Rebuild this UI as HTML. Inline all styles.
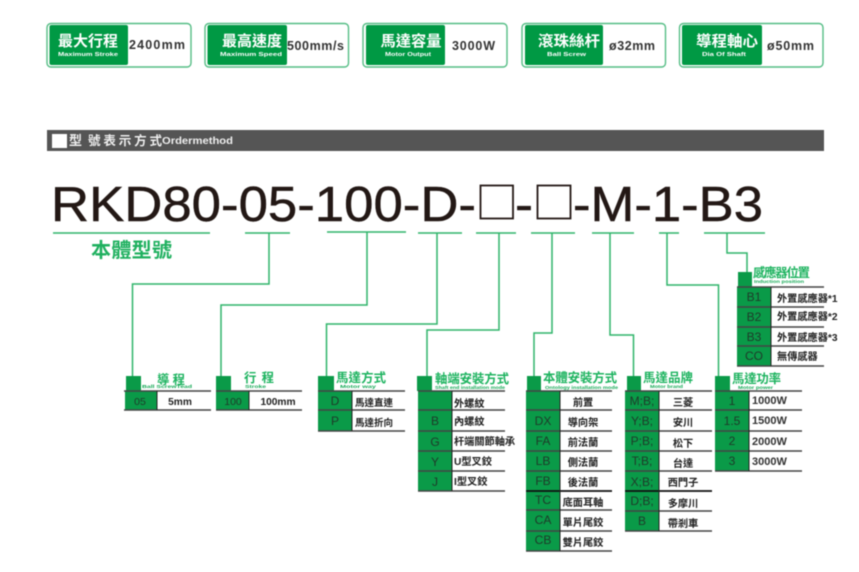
<!DOCTYPE html>
<html><head><meta charset="utf-8"><style>
html,body{margin:0;padding:0;background:#fff;width:859px;height:572px;overflow:hidden}
svg{display:block;filter:blur(.45px)}
text{font-family:"Liberation Sans","Noto Sans CJK TC",sans-serif}
.ct{font-size:15px;fill:#fff;font-weight:700;text-anchor:middle}
.cs{font-size:5.5px;fill:#fff;font-weight:700}
.cv{font-size:12.5px;fill:#333;font-weight:700}
.g{fill:#0a9a48}
.l{stroke:#2fb56a;stroke-width:1.5;fill:none}
.r{stroke:#444;stroke-width:1.4}
.k{stroke:#111;stroke-width:1.8}
.v{stroke:#222;stroke-width:1}
.t{font-size:12.4px;font-weight:700;fill:#1db35f}
.s{font-size:4.5px;font-weight:700;fill:#14a955}
.c{font-size:12px;fill:#1f3a2a;text-anchor:middle}
.d{font-size:10.2px;fill:#222;font-weight:700}
.m{text-anchor:middle}
.w{font-size:11px;font-weight:700;fill:#333}
</style></head><body>
<svg width="859" height="572" viewBox="0 0 859 572" xmlns="http://www.w3.org/2000/svg">
<rect width="859" height="572" fill="#fff"/>

<!-- top cards -->
<g fill="#fff" stroke="#55bd85" stroke-width="1.4">
<rect x="47" y="23.5" width="144" height="43.5" rx="4"/>
<rect x="205" y="23.5" width="143.500" height="43.5" rx="4"/>
<rect x="363" y="23.5" width="144" height="43.5" rx="4"/>
<rect x="522" y="23.5" width="143.500" height="43.5" rx="4"/>
<rect x="679.500" y="23.500" width="143.500" height="43.500" rx="4"/>
</g>
<g fill="#009944">
<rect x="49.500" y="25" width="78.500" height="40" rx="2"/>
<rect x="207.500" y="25" width="79.500" height="40" rx="2"/>
<rect x="366" y="25" width="79" height="40" rx="2"/>
<rect x="525" y="25" width="78" height="40" rx="2"/>
<rect x="682" y="25" width="80" height="40" rx="2"/>
</g>
<text class="ct" x="88" y="46" textLength="60" lengthAdjust="spacingAndGlyphs">最大行程</text>
<text class="cs" x="58" y="56" textLength="60" lengthAdjust="spacingAndGlyphs">Maximum Stroke</text>
<text class="cv" x="129" y="49" textLength="56">2400mm</text>
<text class="ct" x="252" y="46" textLength="60" lengthAdjust="spacingAndGlyphs">最高速度</text>
<text class="cs" x="220" y="56" textLength="62" lengthAdjust="spacingAndGlyphs">Maximum Speed</text>
<text class="cv" x="287" y="50" textLength="57">500mm/s</text>
<text class="ct" x="411" y="46" textLength="61" lengthAdjust="spacingAndGlyphs">馬達容量</text>
<text class="cs" x="385" y="56" textLength="46" lengthAdjust="spacingAndGlyphs">Motor Output</text>
<text class="cv" x="452" y="50" textLength="43">3000W</text>
<text class="ct" x="569" y="46" textLength="62" lengthAdjust="spacingAndGlyphs">滾珠絲杆</text>
<text class="cs" x="547" y="56" textLength="39" lengthAdjust="spacingAndGlyphs">Ball Screw</text>
<text class="cv" x="609" y="50" textLength="46">ø32mm</text>
<text class="ct" x="727" y="46" textLength="62" lengthAdjust="spacingAndGlyphs">導程軸心</text>
<text class="cs" x="702" y="56" textLength="44" lengthAdjust="spacingAndGlyphs">Dia Of Shaft</text>
<text class="cv" x="767" y="50" textLength="47">ø50mm</text>

<!-- band -->
<rect x="47" y="130" width="777" height="21" fill="#555"/>
<rect x="52" y="134" width="15" height="14" fill="#fff"/>
<text x="69" y="145" font-size="13" font-weight="700" fill="#eee">型</text>
<text x="88" y="145" font-size="12.500" font-weight="700" fill="#eee" textLength="74">號表示方式</text>
<text x="162" y="144" font-size="10" font-weight="700" fill="#eee" textLength="71" lengthAdjust="spacingAndGlyphs">Ordermethod</text>

<!-- model -->
<g font-size="49" fill="#231815" stroke="#231815" stroke-width=".5">
<text x="51" y="221" textLength="425" lengthAdjust="spacingAndGlyphs">RKD80-05-100-D-</text>
<text x="515" y="221" textLength="18" lengthAdjust="spacingAndGlyphs">-</text>
<text x="573" y="221" textLength="190" lengthAdjust="spacingAndGlyphs">-M-1-B3</text>
</g>
<g fill="none" stroke="#231815" stroke-width="1.8">
<rect x="480.500" y="185.500" width="32.500" height="33"/>
<rect x="537.500" y="185.500" width="33" height="33"/>
</g>

<!-- underlines and connectors -->
<g class="l">
<path d="M53 233H210M245 233H290M327 232H406M418 233H462M476 233H516M531 233H575M592 233H634M659 233H679M704 233H765"/>
<path d="M269 233V284H132.500V376"/>
<path d="M367 232V305H221V376"/>
<path d="M437 233V324H326.500V376"/>
<path d="M499 233V330H427V376"/>
<path d="M552 233V333H534V376"/>
<path d="M610 233V335H633.500V376"/>
<path d="M667 233V285H718.500V376"/>
<path d="M727 233V253H747V272"/>
</g>
<text x="91" y="257" font-size="20" font-weight="700" fill="#1fb05f" textLength="81">本體型號</text>

<!-- green blocks -->
<g class="g">
<rect x="126" y="376" width="15" height="15"/><rect x="125" y="391" width="32" height="19"/>
<rect x="216" y="376" width="15" height="15"/><rect x="216" y="391" width="33" height="19"/>
<rect x="318" y="376" width="16" height="15"/><rect x="318" y="391" width="34" height="40"/>
<rect x="417" y="376" width="15" height="15"/><rect x="418" y="391" width="34" height="100"/>
<rect x="527" y="376" width="14" height="15"/><rect x="526" y="391" width="34" height="160"/>
<rect x="627" y="376" width="14" height="15"/><rect x="625" y="391" width="34" height="140"/>
<rect x="715" y="376" width="15" height="15"/><rect x="715" y="391" width="34" height="80"/>
<rect x="738" y="272" width="14" height="15"/><rect x="737" y="287" width="34" height="79"/>
</g>

<!-- rows -->
<g class="r">
<path d="M124 391H211M124 410H211"/>
<path d="M216 391H302M216 410H302"/>
<path d="M318 391H405M318 410H405M318 431H405"/>
<path d="M418 391H505M418 410H505M418 431H505M418 451H505M418 471H505M418 491H505"/>
<path d="M526 391H612M526 410H612M526 431H612M526 451H612M526 471H612M526 510H612M526 531H612M526 551H612"/>
<path d="M625 391H712M625 410H712M625 431H712M625 451H712M625 471H712M625 511H712M625 531H712"/>
<path d="M715 391H802M715 410H802M715 431H802M715 451H802M715 471H802"/>
<path d="M737 287H824M737 307H824M737 327H824M737 346H824M737 366H824"/>
</g>
<path class="k" d="M526 491H612M625 491H712"/>
<g class="v">
<path d="M157 391V410M249 391V410M352 391V431M452 391V491M560 391V551M659 391V531M749 391V471M771 287V366"/>
</g>

<!-- titles -->
<text class="t" x="157" y="384" textLength="28">導 程</text>
<text class="s" x="142" y="388" font-size="5" textLength="50" lengthAdjust="spacingAndGlyphs">Ball ScrewTead</text>
<text class="t" x="244" y="382" textLength="30">行 程</text>
<text class="s" x="245" y="388" textLength="21" lengthAdjust="spacingAndGlyphs">Stroke</text>
<text class="t" x="336" y="382" textLength="50">馬達方式</text>
<text class="s" x="340" y="388" textLength="36" lengthAdjust="spacingAndGlyphs">Motor way</text>
<text class="t" x="435" y="383" textLength="74">軸端安裝方式</text>
<text class="s" x="435" y="389" textLength="70" lengthAdjust="spacingAndGlyphs">Shaft end installation mode</text>
<text class="t" x="543" y="382" textLength="74">本體安裝方式</text>
<text class="s" x="545" y="389" textLength="73" lengthAdjust="spacingAndGlyphs">Ontology installation mode</text>
<text class="t" x="643" y="382" textLength="50">馬達品牌</text>
<text class="s" x="650" y="388" textLength="33" lengthAdjust="spacingAndGlyphs">Motor brand</text>
<text class="t" x="732" y="383" textLength="49">馬達功率</text>
<text class="s" x="738" y="389" textLength="35" lengthAdjust="spacingAndGlyphs">Motor power</text>
<text class="t" x="753" y="277" font-size="11.500" textLength="57">感應器位置</text>
<text class="s" x="754" y="283" textLength="50" lengthAdjust="spacingAndGlyphs">Induction position</text>

<!-- codes -->
<g class="c">
<text x="140" y="405" font-size="10.500">05</text>
<text x="233" y="405" font-size="10.500">100</text>
<text x="335" y="405">D</text><text x="335" y="425">P</text>
<text x="435" y="425">B</text><text x="435" y="446">G</text><text x="435" y="466">Y</text><text x="435" y="486">J</text>
<text x="543" y="425">DX</text><text x="543" y="445">FA</text><text x="543" y="465">LB</text><text x="543" y="485">FB</text><text x="543" y="504">TC</text><text x="543" y="524">CA</text><text x="543" y="544">CB</text>
<text x="642" y="405">M;B;</text><text x="642" y="425">Y;B;</text><text x="642" y="445">P;B;</text><text x="642" y="465">T;B;</text><text x="642" y="486">X;B;</text><text x="642" y="505">D;B;</text><text x="642" y="525">B</text>
<text x="732" y="405">1</text><text x="732" y="425">1.5</text><text x="732" y="445">2</text><text x="732" y="465">3</text>
<text x="754" y="301">B1</text><text x="754" y="321">B2</text><text x="754" y="341">B3</text><text x="754" y="360">CO</text>
</g>

<!-- descriptions -->
<g class="d">
<text class="m" x="180" y="405">5mm</text>
<text class="m" x="278" y="405">100mm</text>
<text x="355" y="406" font-size="9.500">馬達直連</text>
<text x="355" y="426" font-size="9.500">馬達折向</text>
<text x="454" y="407">外螺紋</text>
<text x="454" y="425">內螺紋</text>
<text x="454" y="445">杆端關節軸承</text>
<text x="454" y="465">U型叉鉸</text>
<text x="454" y="485">I型叉鉸</text>
<text class="m" x="583" y="406">前置</text>
<text class="m" x="583" y="426">導向架</text>
<text class="m" x="583" y="446">前法蘭</text>
<text class="m" x="583" y="466">側法蘭</text>
<text class="m" x="583" y="486">後法蘭</text>
<text class="m" x="583" y="506">底面耳軸</text>
<text class="m" x="583" y="526">單片尾鉸</text>
<text class="m" x="583" y="546">雙片尾鉸</text>
<text class="m" x="683" y="406">三菱</text>
<text class="m" x="683" y="426">安川</text>
<text class="m" x="683" y="447">松下</text>
<text class="m" x="683" y="467">台達</text>
<text class="m" x="683" y="486">西門子</text>
<text class="m" x="683" y="507">多摩川</text>
<text class="m" x="683" y="527">帶剎車</text>
<text x="777" y="302">外置感應器*1</text>
<text x="777" y="320">外置感應器*2</text>
<text x="777" y="341">外置感應器*3</text>
<text x="777" y="360">無傳感器</text>
</g>
<g class="w">
<text x="752" y="404">1000W</text>
<text x="752" y="424">1500W</text>
<text x="752" y="445">2000W</text>
<text x="752" y="465">3000W</text>
</g>
</svg>
</body></html>
